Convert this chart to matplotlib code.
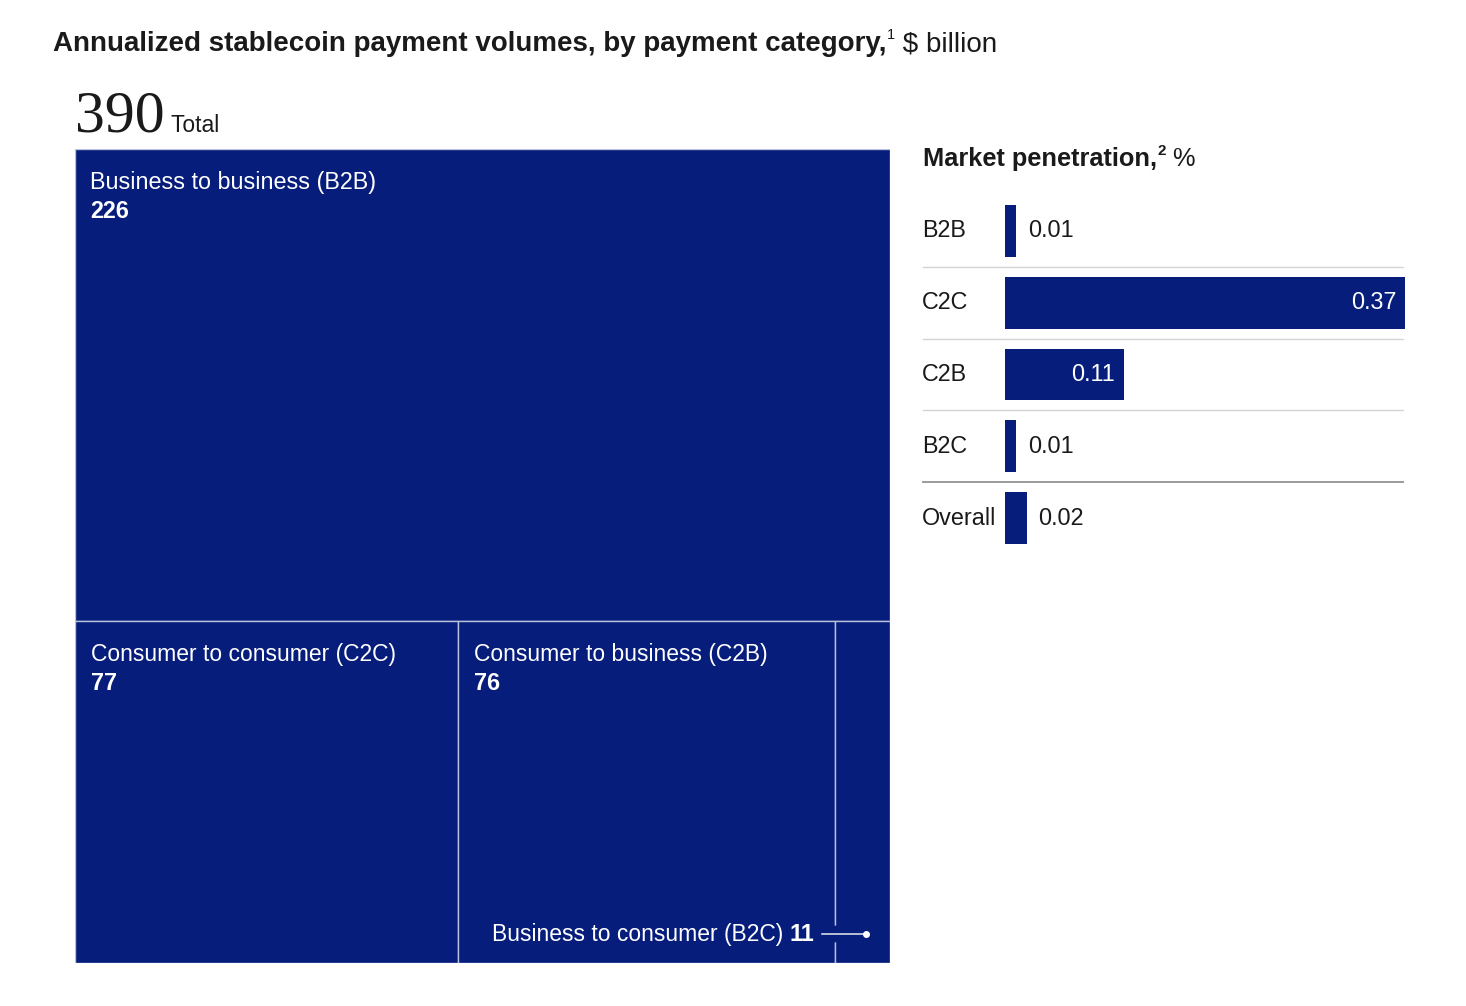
import matplotlib
matplotlib.use("Agg")
import matplotlib.pyplot as plt
from matplotlib.patches import Rectangle
from matplotlib import transforms
from matplotlib import patheffects as pe

# treemap data, $ billion
top_name = "Business to business (B2B)"
top_value = 226
row_names = ["Consumer to consumer (C2C)", "Consumer to business (C2B)", "Business to consumer (B2C)"]
row_values = [77, 76, 11]
total = 390

# market penetration, %
pen_labels = ["B2B", "C2C", "C2B", "B2C", "Overall"]
pen_values = [0.01, 0.37, 0.11, 0.01, 0.02]

NAVY = "#061d7b"
EDGE = "#b9c1dd"
INK = "#1a1a1a"
FONT = "Liberation Sans"
LBL = 16.8

W, H = 1466, 1006
fig = plt.figure(figsize=(W / 100, H / 100), dpi=100)
fig.patch.set_facecolor("white")
plt.rcParams["font.family"] = FONT
renderer = fig.canvas.get_renderer()


def fx(x):
    return x / W


def fy(y):
    return 1 - y / H


def pt(px):
    return px * 0.72


def text_width(s, **kw):
    t = fig.text(0, 0, s, **kw)
    w = t.get_window_extent(renderer=renderer).width
    t.remove()
    return w


def run_text(x, y, pieces, va="baseline"):
    # write several text pieces one after another on one baseline
    cur = x
    for s, size, weight, dy, family in pieces:
        t = fig.text(cur, y + dy, s, fontsize=size, fontweight=weight, color=INK,
                     family=family, ha="left", va=va)
        bb = t.get_window_extent(renderer=renderer)
        cur = fig.transFigure.inverted().transform((bb.x1, bb.y1))[0]
    return cur


# title
run_text(fx(53), fy(51), [
    ("Annualized stablecoin payment volumes, by payment category,", 20, "bold", 0, FONT),
    ("1", 10.5, "normal", 0.012, FONT),
    (" $ billion", 20, "normal", 0, FONT),
])
run_text(fx(75), fy(132), [
    ("390", 43, "normal", 0, "Liberation Serif"),
    (" Total", 16.5, "normal", 0, FONT),
])

# treemap
ax = fig.add_axes([fx(75), fy(963), 815 / W, 814 / H])
ax.set_xlim(0, 1)
ax.set_ylim(total, 0)
ax.axis("off")

ax.add_patch(Rectangle((0, 0), 1, top_value, facecolor=NAVY, edgecolor=EDGE, lw=1))
ax.annotate(top_name, (0, 0), xytext=(pt(15), -pt(33)), textcoords="offset points",
            color="white", fontsize=LBL, va="center", ha="left")
ax.annotate(str(top_value), (0, 0), xytext=(pt(15), -pt(62)), textcoords="offset points",
            color="white", fontsize=LBL, fontweight="bold", va="center", ha="left")

row_sum = sum(row_values)
x0 = 0
for i, (name, v) in enumerate(zip(row_names, row_values)):
    w = v / row_sum
    ax.add_patch(Rectangle((x0, top_value), w, total - top_value, facecolor=NAVY,
                           edgecolor=EDGE, lw=1))
    if i < 2:
        ax.annotate(name, (x0, top_value), xytext=(pt(16), -pt(34)), textcoords="offset points",
                    color="white", fontsize=16.5, va="center", ha="left")
        ax.annotate(str(v), (x0, top_value), xytext=(pt(16), -pt(63)), textcoords="offset points",
                    color="white", fontsize=LBL, fontweight="bold", va="center", ha="left")
    else:
        # small cell: label sits outside with a leader line to a dot
        cx = x0 + w / 2
        dot = transforms.offset_copy(ax.transData, fig=fig, x=pt(3), y=pt(29), units="points")
        ax.plot([cx], [total], "o", color="white", ms=4, transform=dot, zorder=5)
        lead = ax.annotate("", (cx, total), xycoords=dot, xytext=(-pt(44), 0),
                           textcoords="offset points",
                           arrowprops=dict(arrowstyle="-", color="white", lw=1,
                                           shrinkA=0, shrinkB=0))
        lead.arrow_patch.set_path_effects([pe.Stroke(linewidth=12, foreground=NAVY), pe.Normal()])
        lead.arrow_patch.set_zorder(4)
        ax.annotate(str(v), (cx, total), xycoords=dot, xytext=(-pt(51), -pt(7)),
                    textcoords="offset points", color="white", fontsize=LBL,
                    fontweight="bold", va="baseline", ha="right")
        nw = text_width(str(v), fontsize=LBL, fontweight="bold")
        ax.annotate(name, (cx, total), xycoords=dot, xytext=(-pt(51) - pt(nw) - pt(7), -pt(7)),
                    textcoords="offset points", color="white", fontsize=16.5,
                    va="baseline", ha="right")
    x0 += w

# market penetration bars
bx = fig.add_axes([fx(1005), fy(554), 400 / W, 359 / H])
bx.set_xlim(0, max(pen_values))
bx.set_ylim(len(pen_values) - 0.5, -0.5)
bx.axis("off")
ypos = list(range(len(pen_values)))
bx.barh(ypos, pen_values, height=0.72, color=NAVY)

side = transforms.blended_transform_factory(fig.transFigure, bx.transData)
for i, (lab, v) in enumerate(zip(pen_labels, pen_values)):
    bx.text(fx(922), i, lab, transform=side, fontsize=LBL, color=INK, va="center", ha="left")
    if v > 0.05:
        bx.annotate(f"{v:g}", (v, i), xytext=(-pt(9), 0), textcoords="offset points",
                    color="white", fontsize=LBL, va="center", ha="right")
    else:
        bx.annotate(f"{v:g}", (v, i), xytext=(pt(12), 0), textcoords="offset points",
                    color=INK, fontsize=LBL, va="center", ha="left")

for i in range(len(pen_values) - 1):
    last = i == len(pen_values) - 2
    bx.plot([fx(923), fx(1403)], [i + 0.5, i + 0.5], transform=side, clip_on=False,
            color="#9a9a9a" if last else "#d4d4d4", lw=1.4 if last else 1)

run_text(fx(923), fy(166), [
    ("Market penetration,", 18.3, "bold", 0, FONT),
    ("2", 11, "bold", 0.011, FONT),
    (" %", 18.3, "normal", 0, FONT),
])

fig.savefig("out.png", dpi=100, facecolor="white")
